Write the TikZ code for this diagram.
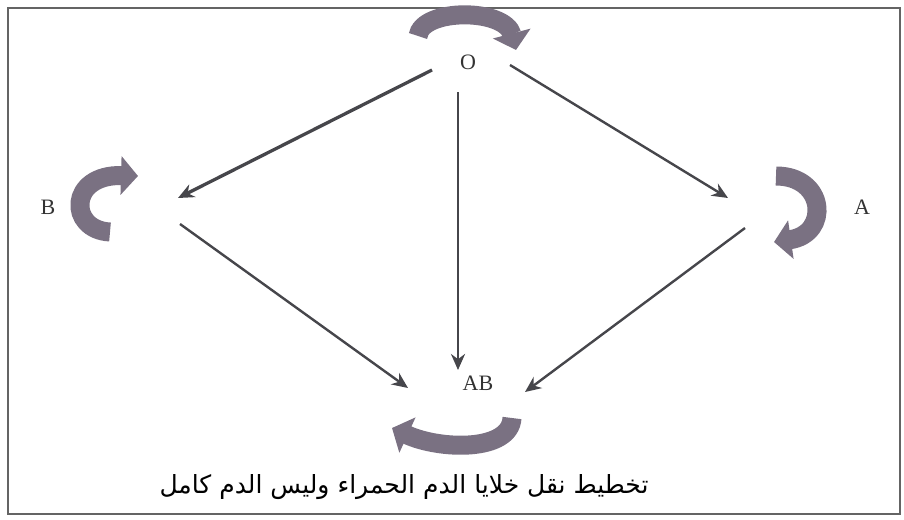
\documentclass[tikz,border=0pt]{standalone}
\usepackage{fontspec}
\setmainfont{Liberation Serif}
\newfontfamily\arabicfont[Script=Arabic]{DejaVu Sans}
\TeXXeTstate=1
\usetikzlibrary{arrows.meta}
\definecolor{bandgray}{RGB}{122,113,130}
\definecolor{arrowgray}{RGB}{70,70,75}
\definecolor{framegray}{RGB}{100,100,100}
\tikzset{
  lbl/.style={font=\fontsize{22}{24}\selectfont, inner sep=0pt, text=black!80},
  conn/.style={draw=arrowgray, line width=2.4pt, -{Stealth[length=16pt,width=14pt]}},
  turn/.style={draw=bandgray, line width=19pt, -{Triangle[length=17pt,width=38pt]}},
}
\begin{document}
\begin{tikzpicture}[x=1pt,y=-1pt]
\useasboundingbox (0,0) rectangle (904,519);
\draw[framegray, line width=2pt] (8,8) rectangle (900,514);
% labels
\node[lbl] (O) at (468,62) {O};
\node[lbl] (B) at (48,207) {B};
\node[lbl] (A) at (862,207) {A};
\node[lbl] (AB) at (478,383) {AB};
% connector ends
\coordinate (Oleft) at (432,70);
\coordinate (Oright) at (510,65);
\coordinate (Odown) at (458,92);
\coordinate (Bin) at (178,198);
\coordinate (Bout) at (180,224);
\coordinate (Ain) at (728,198);
\coordinate (Aout) at (745,228);
\coordinate (ABtop) at (458,370);
\coordinate (ABleft) at (408,388);
\coordinate (ABright) at (525,392);
% connectors
\draw[conn, line width=3.3pt] (Oleft) -- (Bin);
\draw[conn] (Oright) -- (Ain);
\draw[conn, line width=2.8pt] (Odown) -- (ABtop);
\draw[conn] (Bout) -- (ABleft);
\draw[conn] (Aout) -- (ABright);
% turning arrows
\draw[turn] (418,36) .. controls (422,8) and (505,8) .. (516,50);
\draw[turn] (110,232) .. controls (68,230) and (68,174) .. (138,176);
\draw[turn] (776,176) .. controls (826,176) and (830,234) .. (774,242);
\draw[turn] (512,418) .. controls (510,452) and (440,450) .. (392,428);
% caption
\node (cap) at (404,487) {\arabicfont\fontsize{25}{28}\selectfont\beginR تخطيط نقل خلايا الدم الحمراء وليس الدم كامل\endR};
\end{tikzpicture}
\end{document}
